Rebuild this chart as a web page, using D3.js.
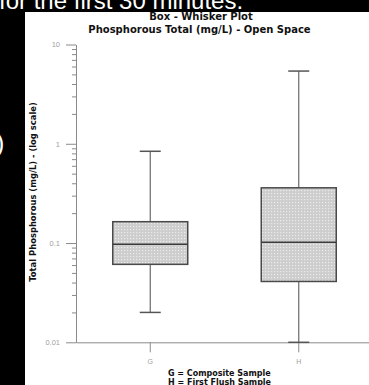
<!DOCTYPE html>
<html>
<head>
<meta charset="utf-8">
<script src="https://cdn.jsdelivr.net/npm/d3@7"></script>
<style>
  body { margin: 0; background: #000; overflow: hidden; }
  svg { display: block; font-family: "Liberation Sans", Arial, sans-serif; }
</style>
</head>
<body>
<div id="container"></div>
<script>
// data
var groups = ["G", "H"];
var whiskerLow = [0.02, 0.01];
var q1 = [0.061, 0.041];
var median = [0.097, 0.102];
var q3 = [0.164, 0.36];
var whiskerHigh = [0.84, 5.4];
var yTickValues = [0.01, 0.1, 1, 10];
var legendLines = ["G = Composite Sample", "H = First Flush Sample"];

var width = 369, height = 385;
var boldFont = "'DejaVu Sans', Verdana, sans-serif";

var svg = d3.select("#container").append("svg")
    .attr("width", width)
    .attr("height", height);

// leftover slide text behind the chart
svg.append("text")
    .attr("x", -1).attr("y", 9)
    .attr("fill", "#fff")
    .style("font-size", "24px")
    .text("for the first 30 minutes.");
svg.append("text")
    .attr("x", -4).attr("y", 152)
    .attr("fill", "#fff")
    .style("font-size", "25px")
    .text(")");

// white chart panel
svg.append("rect")
    .attr("x", 25).attr("y", 12)
    .attr("width", width - 25).attr("height", height - 12)
    .attr("fill", "#fff");

// dotted box fill
var defs = svg.append("defs");
var pat = defs.append("pattern")
    .attr("id", "dots")
    .attr("patternUnits", "userSpaceOnUse")
    .attr("width", 3).attr("height", 3);
pat.append("rect").attr("width", 3).attr("height", 3).attr("fill", "#cdcdcd");
pat.append("rect").attr("x", 1).attr("y", 1).attr("width", 1.2).attr("height", 1.2).attr("fill", "#ececec");

var y = d3.scaleLog()
    .domain([0.01, 10])
    .range([342.3, 44.5]);

var x = d3.scaleBand()
    .domain(groups)
    .range([76, 373])
    .padding(0);

// titles
svg.append("text")
    .attr("x", 201).attr("y", 20)
    .attr("text-anchor", "middle")
    .style("font-family", boldFont)
    .style("font-size", "10px").style("font-weight", "bold")
    .attr("fill", "#111")
    .text("Box - Whisker Plot");
svg.append("text")
    .attr("x", 199.5).attr("y", 33)
    .attr("text-anchor", "middle")
    .style("font-family", boldFont)
    .style("font-size", "10px").style("font-weight", "bold")
    .attr("fill", "#111")
    .text("Phosphorous Total (mg/L) - Open Space");

// minor ticks
var minor = [];
[0.01, 0.1, 1].forEach(function(d) {
  for (var i = 2; i <= 9; i++) minor.push(d * i);
});

var axisColor = "#8a8a8a";

var gMinor = svg.append("g")
    .attr("transform", "translate(76,0)")
    .call(d3.axisLeft(y).tickValues(minor).tickSize(4).tickFormat(""));
gMinor.select(".domain").remove();

var gY = svg.append("g")
    .attr("transform", "translate(76,0)")
    .call(d3.axisLeft(y).tickValues(yTickValues).tickSize(10).tickSizeOuter(0).tickPadding(6)
      .tickFormat(function(d) { return d3.format("~g")(d); }));

svg.selectAll(".tick line, .domain").attr("stroke", axisColor);
gY.selectAll("text")
    .attr("fill", "#a0a0a0")
    .style("font-size", "7.5px")
    .style("font-family", "Liberation Sans, Arial, sans-serif");

// x axis
var gX = svg.append("g")
    .attr("transform", "translate(0,342.3)")
    .call(d3.axisBottom(x).tickSize(10).tickSizeOuter(0).tickPadding(7));
gX.selectAll(".tick line, .domain").attr("stroke", axisColor);
gX.selectAll("text")
    .attr("fill", "#a0a0a0")
    .style("font-size", "7px")
    .style("font-family", "Liberation Sans, Arial, sans-serif");

// y axis title
svg.append("text")
    .attr("transform", "translate(36,192) rotate(-90)")
    .attr("text-anchor", "middle")
    .style("font-family", boldFont)
    .style("font-size", "8.4px").style("font-weight", "bold")
    .attr("fill", "#111")
    .text("Total Phosphorous (mg/L) - (log scale)");

// boxes
var boxW = x.bandwidth() * 0.505;
var capW = 21;
var box = svg.selectAll(".box")
    .data(groups)
    .enter().append("g")
    .attr("class", "box");

box.append("line")
    .attr("x1", function(d) { return x(d) + x.bandwidth() / 2; })
    .attr("x2", function(d) { return x(d) + x.bandwidth() / 2; })
    .attr("y1", function(d, i) { return y(whiskerLow[i]); })
    .attr("y2", function(d, i) { return y(whiskerHigh[i]); })
    .attr("stroke", "#6a6a6a").attr("stroke-width", 1.2);

box.selectAll(".cap")
    .data(function(d, i) { return [{g: d, v: whiskerLow[i]}, {g: d, v: whiskerHigh[i]}]; })
    .enter().append("line")
    .attr("x1", function(d) { return x(d.g) + x.bandwidth() / 2 - capW / 2; })
    .attr("x2", function(d) { return x(d.g) + x.bandwidth() / 2 + capW / 2; })
    .attr("y1", function(d) { return y(d.v); })
    .attr("y2", function(d) { return y(d.v); })
    .attr("stroke", "#555").attr("stroke-width", 1.5);

box.append("rect")
    .attr("x", function(d) { return x(d) + x.bandwidth() / 2 - boxW / 2; })
    .attr("width", boxW)
    .attr("y", function(d, i) { return y(q3[i]); })
    .attr("height", function(d, i) { return y(q1[i]) - y(q3[i]); })
    .attr("fill", "url(#dots)")
    .attr("stroke", "#4a4a4a").attr("stroke-width", 1.5);

box.append("line")
    .attr("x1", function(d) { return x(d) + x.bandwidth() / 2 - boxW / 2; })
    .attr("x2", function(d) { return x(d) + x.bandwidth() / 2 + boxW / 2; })
    .attr("y1", function(d, i) { return y(median[i]); })
    .attr("y2", function(d, i) { return y(median[i]); })
    .attr("stroke", "#3a3a3a").attr("stroke-width", 1.5);

// legend
svg.selectAll(".legend")
    .data(legendLines)
    .enter().append("text")
    .attr("x", 168)
    .attr("y", function(d, i) { return 375.5 + i * 9; })
    .style("font-family", boldFont)
    .style("font-size", "8px").style("font-weight", "bold")
    .attr("fill", "#111")
    .text(function(d) { return d; });
</script>
</body>
</html>
